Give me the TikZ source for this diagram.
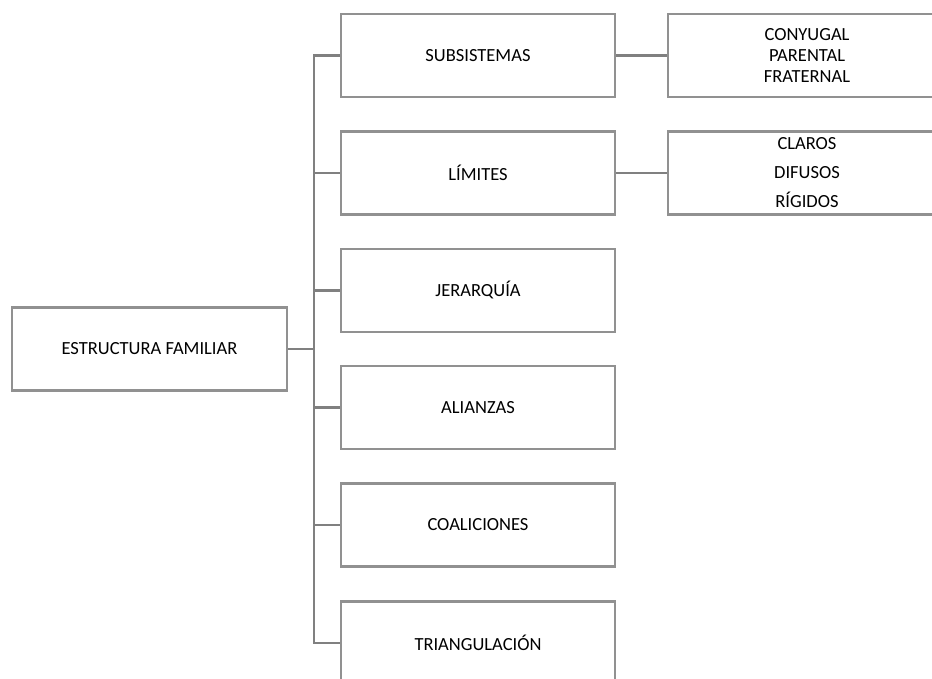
\documentclass[tikz,border=0pt]{standalone}
\usepackage{fontspec}
\setmainfont{Carlito}
\definecolor{boxline}{RGB}{145,145,145}
\definecolor{linkline}{RGB}{128,128,128}
\begin{document}
\begin{tikzpicture}[x=1pt,y=-1pt,
  box/.style={draw=boxline,line width=2.2pt,rectangle,minimum height=83pt,
    inner sep=0pt,align=center,font=\fontsize{18.5}{21}\selectfont},
  mainbox/.style={box,minimum width=275pt},
  subbox/.style={box,minimum width=274pt},
  leafbox/.style={box,minimum width=278pt},
  link/.style={draw=linkline,line width=2.4pt}]
\useasboundingbox (0,0) rectangle (932,679);
\clip (0,0) rectangle (932,679);

% root
\node[mainbox] (root) at (149.5,349) {ESTRUCTURA FAMILIAR};

% second level
\node[subbox] (sub) at (478,55.5)  {SUBSISTEMAS};
\node[subbox] (lim) at (478,173)   {LÍMITES};
\node[subbox] (jer) at (478,290.5) {JERARQUÍA};
\node[subbox] (ali) at (478,407.5) {ALIANZAS};
\node[subbox] (coa) at (478,525)   {COALICIONES};
\node[subbox] (tri) at (478,643)   {TRIANGULACIÓN};

% third level
\node[leafbox] (subd) at (807,55.5) {CONYUGAL\\PARENTAL\\FRATERNAL};
\node[leafbox] (limd) at (807,173)  {CLAROS\\[8pt]DIFUSOS\\[8pt]RÍGIDOS};

% connectors
\path (root.east) ++(26,0) coordinate (trunk);
\draw[link] (root.east) -- (trunk);
\foreach \n in {sub,lim,jer,ali,coa,tri}
  \draw[link] (trunk) |- (\n.west);
\draw[link] (sub.east) -- (subd.west);
\draw[link] (lim.east) -- (limd.west);
\end{tikzpicture}
\end{document}
